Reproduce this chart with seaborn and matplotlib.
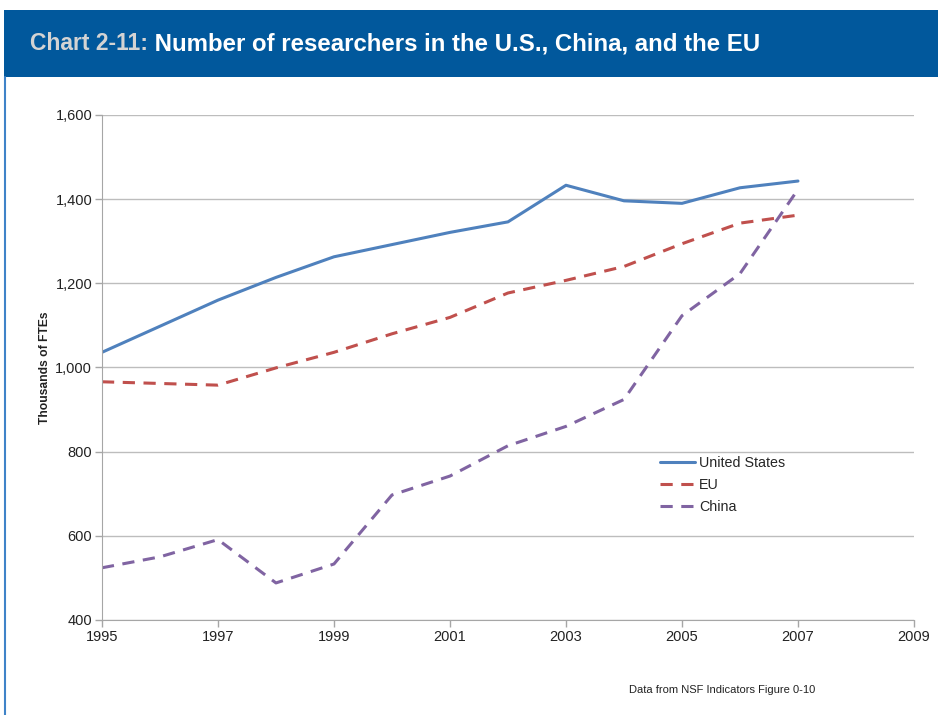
import matplotlib
matplotlib.use("Agg")
import matplotlib.pyplot as plt
import matplotlib.ticker as mticker
from matplotlib.patches import Rectangle
from matplotlib.lines import Line2D
import seaborn as sns
import pandas as pd

years = list(range(1995, 2008))
us = [1036, 1098, 1160, 1214, 1263, 1292, 1321, 1346, 1433, 1396, 1390, 1427, 1443]
eu = [966, 962, 958, 999, 1036, 1080, 1119, 1177, 1207, 1240, 1294, 1343, 1362]
china = [524, 550, 591, 488, 533, 697, 742, 814, 860, 924, 1123, 1223, 1423]
series_names = ["United States", "EU", "China"]
colors = {"United States": "#4F81BD", "EU": "#C0504D", "China": "#8064A2"}

df = pd.DataFrame({"Year": years * 3,
                   "Value": us + eu + china,
                   "Series": [s for s in series_names for _ in years]})

sns.set_style("white")
plt.rcParams['font.family'] = ['Liberation Sans', 'DejaVu Sans']

fig = plt.figure(figsize=(9.38, 7.15), dpi=100)
ax = fig.add_axes([0.1087, 0.1329, 0.8657, 0.7063])

# banner and frame
fig.patches.append(Rectangle((0.0043, 0.8923), 1.0, 0.0937, transform=fig.transFigure,
                             facecolor="#01589C", edgecolor="none", zorder=0))
fig.add_artist(Line2D([0.0055, 0.0055], [0.0, 0.8923], transform=fig.transFigure,
                      color="#3F83C8", lw=1.5))

t1 = fig.text(0.032, 0.9385, "Chart 2-11:", color="#D3D3D3", fontsize=16.5,
              fontweight="bold", va="center", ha="left")
fig.canvas.draw()
bb = t1.get_window_extent(fig.canvas.get_renderer()).transformed(fig.transFigure.inverted())
fig.text(bb.x1, 0.9385, " Number of researchers in the U.S., China, and the EU", color="white",
         fontsize=17.3, fontweight="bold", va="center", ha="left")

sns.lineplot(data=df, x="Year", y="Value", hue="Series", style="Series",
             palette=colors, dashes={"United States": "", "EU": (4, 2.8), "China": (4, 2.8)},
             linewidth=2.2, ax=ax)

ax.set_xlim(1995, 2009)
ax.set_ylim(400, 1600)
ax.set_xticks(range(1995, 2010, 2))
ax.set_yticks(range(400, 1601, 200))
ax.yaxis.set_major_formatter(mticker.FuncFormatter(lambda v, p: f"{int(v):,}"))
ax.grid(axis="y", color="#BDBDBD", lw=1)
ax.set_axisbelow(True)
for s in ["top", "right"]:
    ax.spines[s].set_visible(False)
for s in ["left", "bottom"]:
    ax.spines[s].set_color("#A6A6A6")
ax.tick_params(axis="both", which="major", direction="out", length=5, width=1,
               color="#A6A6A6", labelsize=10.5, labelcolor="#222222", pad=2, left=True, bottom=True)
ax.set_xlabel("")
ax.set_ylabel("Thousands of FTEs", fontsize=8.7, fontweight="bold", color="#222222")
ax.yaxis.set_label_coords(-0.063, 0.5)

leg = ax.legend(loc="upper left", bbox_to_anchor=(0.671, 0.35), frameon=False, fontsize=10.3,
                handlelength=2.45, handletextpad=0.3, labelspacing=0.57, title=None)

fig.text(0.77, 0.035, "Data from NSF Indicators Figure 0-10", fontsize=8,
         color="#222222", ha="center", va="center")

fig.savefig("out.png", dpi=100)
